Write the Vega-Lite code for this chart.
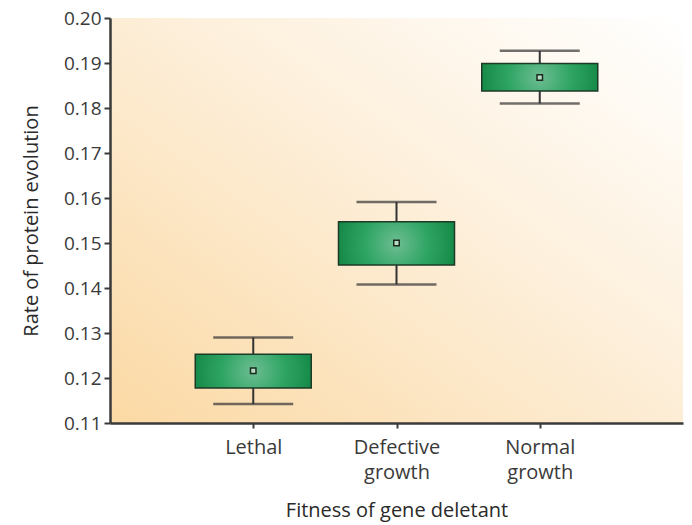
{
  "$schema": "https://vega.github.io/schema/vega-lite/v6.json",
  "autosize": "none",
  "width": 573,
  "height": 405,
  "padding": {"left": 110, "top": 18, "right": 9, "bottom": 102},
  "background": "white",
  "view": {
    "stroke": null,
    "fill": {
      "gradient": "linear",
      "x1": 0, "y1": 1, "x2": 1, "y2": 0,
      "stops": [
        {"offset": 0, "color": "#fbd9a4"},
        {"offset": 0.55, "color": "#fdefda"},
        {"offset": 1, "color": "#ffffff"}
      ]
    }
  },
  "data": {
    "values": [
      {"fitness": "Lethal", "lower": 0.1142, "q1": 0.1178, "mean": 0.1216, "q3": 0.1253, "upper": 0.1290},
      {"fitness": "Defective growth", "lower": 0.1408, "q1": 0.1451, "mean": 0.1500, "q3": 0.1547, "upper": 0.1591},
      {"fitness": "Normal growth", "lower": 0.1810, "q1": 0.1838, "mean": 0.1868, "q3": 0.1899, "upper": 0.1927}
    ]
  },
  "encoding": {
    "x": {
      "field": "fitness",
      "type": "nominal",
      "sort": ["Lethal", "Defective growth", "Normal growth"],
      "scale": {"type": "point", "padding": 1},
      "axis": {
        "title": "Fitness of gene deletant",
        "labelAngle": 0,
        "labelExpr": "split(datum.label, ' ')",
        "labelAlign": "center",
        "labelBaseline": "top",
        "labelPadding": 9,
        "labelLineHeight": 25,
        "labelFontSize": 20,
        "labelColor": "#3a3a3a",
        "labelFont": "Open Sans",
        "titleFont": "Open Sans",
        "titleFontSize": 20,
        "titleFontWeight": "normal",
        "titleColor": "#2a2a2a",
        "titlePadding": 18,
        "domainColor": "#3a3a3a",
        "domainWidth": 2.5,
        "tickColor": "#3a3a3a",
        "tickWidth": 2,
        "tickSize": 5
      }
    }
  },
  "layer": [
    {
      "mark": {"type": "rule", "color": "#333333", "strokeWidth": 2},
      "encoding": {
        "y": {
          "field": "lower",
          "type": "quantitative",
          "scale": {"domain": [0.11, 0.20], "nice": false, "zero": false},
          "axis": {
            "title": "Rate of protein evolution",
            "values": [0.11, 0.12, 0.13, 0.14, 0.15, 0.16, 0.17, 0.18, 0.19, 0.20],
            "format": ".2f",
            "grid": false,
            "labelFontSize": 19,
            "labelColor": "#3a3a3a",
            "labelFont": "Open Sans",
            "labelPadding": 3,
            "titleFont": "Open Sans",
            "titleFontSize": 20,
            "titleFontWeight": "normal",
            "titleColor": "#2a2a2a",
            "titlePadding": 22,
            "domainColor": "#3a3a3a",
            "domainWidth": 2.5,
            "tickColor": "#3a3a3a",
            "tickWidth": 2,
            "tickSize": 6
          }
        },
        "y2": {"field": "upper"}
      }
    },
    {
      "mark": {"type": "tick", "orient": "horizontal", "color": "#333333", "size": 80, "thickness": 2.5},
      "encoding": {"y": {"field": "lower", "type": "quantitative"}}
    },
    {
      "mark": {"type": "tick", "orient": "horizontal", "color": "#333333", "size": 80, "thickness": 2.5},
      "encoding": {"y": {"field": "upper", "type": "quantitative"}}
    },
    {
      "mark": {
        "type": "bar",
        "size": 116,
        "stroke": "#1d3a26",
        "strokeWidth": 1.5,
        "fill": {
          "gradient": "radial",
          "x1": 0.5, "y1": 0.5, "r1": 0,
          "x2": 0.5, "y2": 0.5, "r2": 0.6,
          "stops": [
            {"offset": 0, "color": "#6dbd92"},
            {"offset": 0.45, "color": "#2fa564"},
            {"offset": 1, "color": "#0c7f3e"}
          ]
        }
      },
      "encoding": {
        "y": {"field": "q1", "type": "quantitative"},
        "y2": {"field": "q3"}
      }
    },
    {
      "mark": {"type": "point", "shape": "square", "size": 30, "filled": true, "fill": "#b9dcc4", "stroke": "#1a2a1e", "strokeWidth": 1.5, "opacity": 1},
      "encoding": {"y": {"field": "mean", "type": "quantitative"}}
    }
  ]
}
